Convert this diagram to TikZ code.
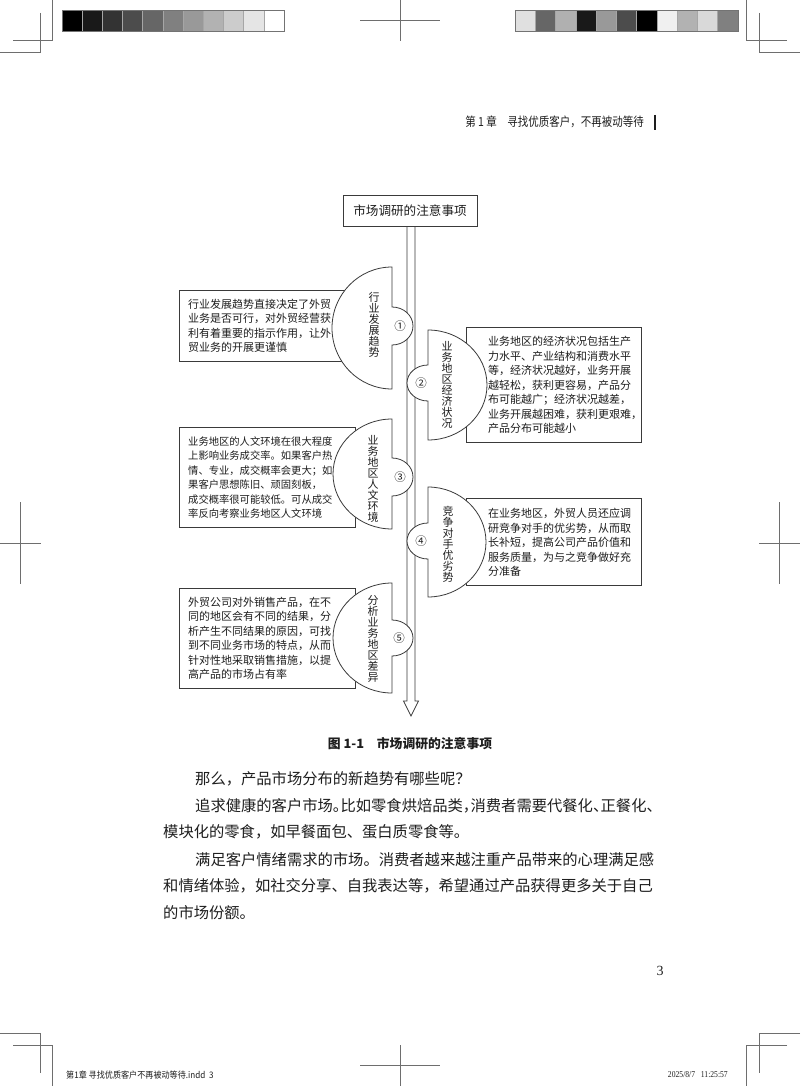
\documentclass[tikz,border=0pt]{standalone}
\usepackage{fontspec}
\IfFontExistsTF{FandolSong-Regular.otf}{\setmainfont{FandolSong-Regular.otf}}{\setmainfont{Noto Sans CJK SC}}
\newfontfamily\hei{Noto Sans CJK SC}
\newfontfamily\lserif{Liberation Serif}
\definecolor{lc}{HTML}{3A3A3A}
\definecolor{markc}{HTML}{6E6E6E}
\definecolor{ink}{HTML}{1E1E1E}
\newcommand{\hp}[1]{\makebox[0.5em][l]{#1}}
\begin{document}
\begin{tikzpicture}[x=1pt,y=-1pt,
  ln/.style={draw=lc, line width=0.8pt},
  markln/.style={draw=markc, line width=0.7pt},
  boxnode/.style={draw=lc, line width=0.8pt, fill=white, inner sep=0pt, anchor=north west},
  fan/.style={draw=lc, line width=0.8pt, fill=white},
  txt/.style={inner sep=0pt, anchor=west, align=left, text=ink, font=\fontsize{11}{14.5}\selectfont},
  vt/.style={inner sep=0pt, align=center, text=ink, font=\fontsize{11}{11}\selectfont},
  num/.style={inner sep=0pt, text=ink, font=\fontsize{11.5}{11.5}\selectfont},
  body/.style={inner sep=0pt, anchor=west, text=ink, font=\fontsize{15.3}{15.3}\selectfont}]
\fill[white] (0,0) rectangle (800,1086);
\useasboundingbox (0,0) rectangle (800,1086);

% crop marks
\draw[markln] (52.5,0) -- (52.5,40.7) -- (13,40.7);
\draw[markln] (40,13) -- (40,52.7) -- (0,52.7);
\draw[markln] (746.5,0) -- (746.5,40.7) -- (787,40.7);
\draw[markln] (759,13) -- (759,52.7) -- (800,52.7);
\draw[markln] (400,0) -- (400,40.7);
\draw[markln] (360,20.3) -- (440,20.3);
\draw[markln] (0,1033) -- (40,1033) -- (40,1073);
\draw[markln] (13,1045) -- (52.5,1045) -- (52.5,1086);
\draw[markln] (800,1033) -- (759,1033) -- (759,1073);
\draw[markln] (787,1045) -- (746.5,1045) -- (746.5,1086);
\draw[markln] (400,1045) -- (400,1086);
\draw[markln] (360,1065) -- (440,1065);
\draw[markln] (20,502) -- (20,584);
\draw[markln] (0,543) -- (40.7,543);
\draw[markln] (779,502) -- (779,584);
\draw[markln] (759,543) -- (800,543);

% colour bars
\foreach \g [count=\i from 0] in {100,90,80,70,60,50,40,30,20,10,0}
  \filldraw[fill=black!\g, draw=black!35, line width=0.5pt] ({62+\i*20.18},10) rectangle ({62+(\i+1)*20.18},31);
\foreach \g [count=\i from 0] in {12,60,31,90,40,70,100,6,30,15,50}
  \filldraw[fill=black!\g, draw=black!35, line width=0.5pt] ({515+\i*20.27},10) rectangle ({515+(\i+1)*20.27},31);
\draw[draw=black!55, line width=0.8pt] (62,10) rectangle (284,31);
\draw[draw=black!55, line width=0.8pt] (515,10) rectangle (738,31);

% running head
\node[inner sep=0pt, anchor=east, text=ink] (head) at (644,122)
  {\scalebox{0.84}[1]{\fontsize{12.5}{12.5}\selectfont 第 1 章\quad 寻找优质客户，不再被动等待}};
\draw[line width=2.4pt, draw=ink] (655,115) -- (655,130);

% title and shaft
\node[draw=lc, line width=0.8pt, fill=white, inner sep=0pt, minimum width=134pt, minimum height=31pt,
  text=ink, font=\fontsize{12.6}{12.6}\selectfont] (t) at (410,210.5) {市场调研的注意事项};
\coordinate (sl) at (407,701);
\coordinate (sr) at (415,701);
\coordinate (tip) at (411,716);
\draw[ln, line join=miter] (t.south -| sl) -- (sl) -- (403.5,701) -- (tip) -- (418.5,701) -- (sr) -- (t.south -| sr);

% boxes
\node[boxnode, minimum width=176pt, minimum height=71pt] (b1) at (179,290) {};
\node[boxnode, minimum width=175pt, minimum height=115pt] (b2) at (466,327) {};
\node[boxnode, minimum width=176pt, minimum height=100pt] (b3) at (179,427) {};
\node[boxnode, minimum width=175pt, minimum height=87pt] (b4) at (466,498) {};
\node[boxnode, minimum width=176pt, minimum height=100pt] (b5) at (179,588) {};

% fans
\draw[fan] (392,267) arc[start angle=270, end angle=90, x radius=60, y radius=61]
  -- (392,345) arc[start angle=90, end angle=-90, x radius=21, y radius=19] -- cycle;
\draw[fan] (428,330) arc[start angle=270, end angle=450, x radius=59, y radius=55]
  -- (428,401) arc[start angle=90, end angle=270, x radius=21, y radius=18] -- cycle;
\draw[fan] (392,419) arc[start angle=270, end angle=90, x radius=59, y radius=55]
  -- (392,496) arc[start angle=90, end angle=-90, x radius=21, y radius=19] -- cycle;
\draw[fan] (428,487) arc[start angle=270, end angle=450, x radius=58, y radius=55]
  -- (428,559) arc[start angle=90, end angle=270, x radius=21, y radius=18] -- cycle;
\draw[fan] (392,583) arc[start angle=270, end angle=90, x radius=59, y radius=55]
  -- (392,656) arc[start angle=90, end angle=-90, x radius=21, y radius=18] -- cycle;

% fan labels
\node[vt] (v1) at (374,325) {行\\业\\发\\展\\趋\\势};
\node[vt] (v2) at (447,384.5) {业\\务\\地\\区\\经\\济\\状\\况};
\node[vt] (v3) at (373,478.5) {业\\务\\地\\区\\人\\文\\环\\境};
\node[vt] (v4) at (448,544.5) {竞\\争\\对\\手\\优\\劣\\势};
\node[vt] (v5) at (373,638.5) {分\\析\\业\\务\\地\\区\\差\\异};
\node[num] (n1) at (400,326) {①};
\node[num] (n2) at (421,383) {②};
\node[num] (n3) at (400,477) {③};
\node[num] (n4) at (421,541) {④};
\node[num] (n5) at (399,638) {⑤};

% box texts
\node[txt] (x1) at (188,326) {行业发展趋势直接决定了外贸\\业务是否可行，对外贸经营获\\利有着重要的指示作用，让外\\贸业务的开展更谨慎};
\node[txt] (x2) at (488,385) {业务地区的经济状况包括生产\\力水平、产业结构和消费水平\\等，经济状况越好，业务开展\\越轻松，获利更容易，产品分\\布可能越广；经济状况越差，\\业务开展越困难，获利更艰难\hp{，}\\产品分布可能越小};
\node[txt, font=\fontsize{10.3}{14.5}\selectfont] (x3) at (188,477.5) {业务地区的人文环境在很大程度\\上影响业务成交率。如果客户热\\情、专业，成交概率会更大；如\\果客户思想陈旧、顽固刻板，\\成交概率很可能较低。可从成交\\率反向考察业务地区人文环境};
\node[txt] (x4) at (488,542.5) {在业务地区，外贸人员还应调\\研竞争对手的优劣势，从而取\\长补短，提高公司产品价值和\\服务质量，为与之竞争做好充\\分准备};
\node[txt] (x5) at (188,638.5) {外贸公司对外销售产品，在不\\同的地区会有不同的结果，分\\析产生不同结果的原因，可找\\到不同业务市场的特点，从而\\针对性地采取销售措施，以提\\高产品的市场占有率};

% caption
\node[inner sep=0pt, text=ink, font=\hei\bfseries\fontsize{12.8}{12.8}\selectfont] (cap) at (410,744) {图 1-1\quad 市场调研的注意事项};

% body text
\node[body] (p1) at (195,779) {那么，产品市场分布的新趋势有哪些呢？};
\node[body] (p2) at (195,806) {追求健康的客户市场\hp{。}比如零食烘焙品类\hp{，}消费者需要代餐化\hp{、}正餐化\hp{、}};
\node[body] (p3) at (163,832) {模块化的零食，如早餐面包、蛋白质零食等。};
\node[body] (p4) at (195,860) {满足客户情绪需求的市场。消费者越来越注重产品带来的心理满足感};
\node[body] (p5) at (163,886) {和情绪体验，如社交分享、自我表达等，希望通过产品获得更多关于自己};
\node[body] (p6) at (163,913) {的市场份额。};

% page number and slug
\node[inner sep=0pt, text=ink, font=\lserif\fontsize{14}{14}\selectfont] (pg) at (660,971) {3};
\node[inner sep=0pt, anchor=west, text=ink] (slugl) at (66,1075)
  {\scalebox{0.9}[1]{\fontsize{9}{9}\selectfont 第1章 寻找优质客户不再被动等待.indd\ \ 3}};
\node[inner sep=0pt, anchor=east, text=ink] (slugr) at (728,1075)
  {\scalebox{0.85}[1]{\lserif\fontsize{9}{9}\selectfont 2025/8/7\ \ \ 11:25:57}};
\end{tikzpicture}
\end{document}
